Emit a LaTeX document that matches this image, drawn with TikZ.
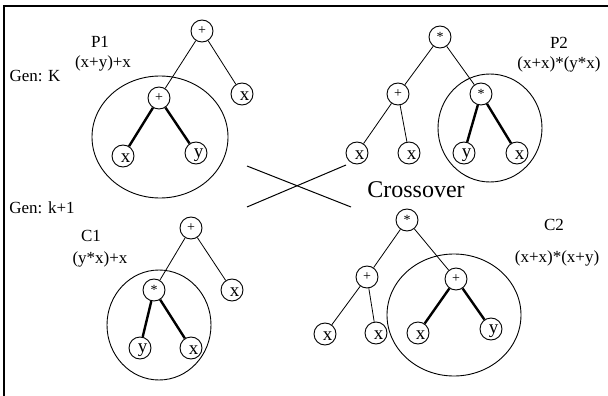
\documentclass[tikz,border=0pt]{standalone}
\usepackage{fontspec}
\setmainfont{Liberation Serif}
\usetikzlibrary{calc,shapes.geometric}

\tikzset{
  treenode/.style={circle, draw, line width=0.9pt, minimum size=22pt, inner sep=0pt},
  opnode/.style={treenode, font=\fontsize{14}{14}\selectfont},
  leafnode/.style={treenode, label={[leaftext]center:#1}},
  leaftext/.style={font=\fontsize{19}{19}\selectfont, inner sep=0pt, xshift=2.5pt, yshift=-2.5pt},
  thinedge/.style={line width=0.8pt},
  thickedge/.style={line width=2.4pt},
  subtree/.style={ellipse, draw, line width=0.9pt, inner sep=0pt},
  caption/.style={font=\fontsize{17}{17}\selectfont, inner sep=0pt},
  bigcaption/.style={font=\fontsize{24}{24}\selectfont, inner sep=0pt},
  framerule/.style={line width=1.4pt},
}

\begin{document}
\begin{tikzpicture}[x=1pt, y=-1pt]
\useasboundingbox (0,0) rectangle (608,396);

% outer frame (top and left edges)
\draw[framerule] (608,6) -- (4,6) -- (4,396);

% ---------- parent P1 ----------
\node[subtree, minimum width=136pt, minimum height=122pt] (e1) at (160,137) {};
\node[opnode] (r1) at (202,31) {+};
\node[leafnode=x] (r1x) at (242,94) {};
\node[opnode] (s1) at (159,98) {+};
\node[leafnode=x] (s1x) at (123,156) {};
\node[leafnode=y] (s1y) at (196,153) {};
\draw[thinedge] (r1) -- (s1);
\draw[thinedge] (r1) -- (r1x);
\draw[thickedge] (s1) -- (s1x);
\draw[thickedge] (s1) -- (s1y);
\node[caption] (p1name) at (100,42) {P1};
\node[caption] (p1expr) at (103,63) {(x+y)+x};
\node[caption] (genk) at (35,76) {Gen: K};

% ---------- parent P2 ----------
\node[subtree, minimum width=104pt, minimum height=108pt] (e2) at (490,128) {};
\node[opnode] (r2) at (440,37) {*};
\node[opnode] (p2) at (398,94) {+};
\node[leafnode=x] (p2a) at (357,153) {};
\node[leafnode=x] (p2b) at (409,153) {};
\node[opnode] (s2) at (481,94) {*};
\node[leafnode=y] (s2y) at (464,153) {};
\node[leafnode=x] (s2x) at (517,153) {};
\draw[thinedge] (r2) -- (p2);
\draw[thinedge] (r2) -- (s2);
\draw[thinedge] (p2) -- (p2a);
\draw[thinedge] (p2) -- (p2b);
\draw[thickedge] (s2) -- (s2y);
\draw[thickedge] (s2) -- (s2x);
\node[caption] (p2name) at (559,43) {P2};
\node[caption] (p2expr) at (559,64) {(x+x)*(y*x)};

% ---------- crossover mark ----------
\coordinate (xa1) at (247,166);
\coordinate (xa2) at (351,207);
\coordinate (xb1) at (247,207);
\coordinate (xb2) at (346,165);
\draw[line width=1pt] (xa1) -- (xa2);
\draw[line width=1pt] (xb1) -- (xb2);
\node[bigcaption] (cross) at (416,190) {Crossover};

% ---------- child C1 ----------
\node[subtree, minimum width=104pt, minimum height=110pt] (e3) at (159,325) {};
\node[opnode] (r3) at (191,228) {+};
\node[leafnode=x] (r3x) at (232,290) {};
\node[opnode] (s3) at (154,290) {*};
\node[leafnode=y] (s3y) at (140,348) {};
\node[leafnode=x] (s3x) at (191,348) {};
\draw[thinedge] (r3) -- (s3);
\draw[thinedge] (r3) -- (r3x);
\draw[thickedge] (s3) -- (s3y);
\draw[thickedge] (s3) -- (s3x);
\node[caption] (genk1) at (42,208) {Gen: k+1};
\node[caption] (c1name) at (91,236) {C1};
\node[caption] (c1expr) at (100,259) {(y*x)+x};

% ---------- child C2 ----------
\node[subtree, minimum width=134pt, minimum height=122pt] (e4) at (454,315) {};
\node[opnode] (r4) at (407,220) {*};
\node[opnode] (p4) at (367,277) {+};
\node[leafnode=x] (p4a) at (325,334) {};
\node[leafnode=x] (p4b) at (376,333) {};
\node[opnode] (s4) at (456,279) {+};
\node[leafnode=x] (s4x) at (418,333) {};
\node[leafnode=y] (s4y) at (491,329) {};
\draw[thinedge] (r4) -- (p4);
\draw[thinedge] (r4) -- (s4);
\draw[thinedge] (p4) -- (p4a);
\draw[thinedge] (p4) -- (p4b);
\draw[thickedge] (s4) -- (s4x);
\draw[thickedge] (s4) -- (s4y);
\node[caption] (c2name) at (554,225) {C2};
\node[caption] (c2expr) at (557,258) {(x+x)*(x+y)};
\end{tikzpicture}
\end{document}
